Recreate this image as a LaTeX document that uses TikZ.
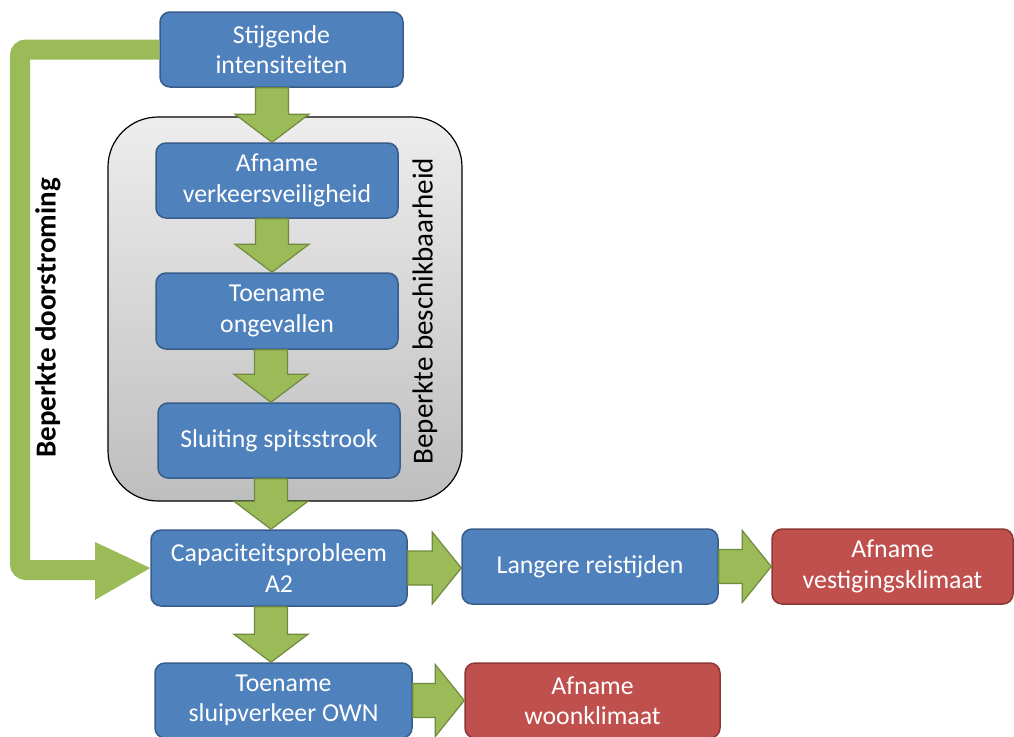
\documentclass[tikz,border=0pt]{standalone}
\usepackage{fontspec}
\setmainfont{Carlito}
\usetikzlibrary{calc}
\definecolor{blueF}{HTML}{4F81BD}
\definecolor{blueD}{HTML}{385D8A}
\definecolor{redF}{HTML}{C0504D}
\definecolor{redD}{HTML}{8C3836}
\definecolor{greenF}{HTML}{9BBB59}
\definecolor{greenD}{HTML}{71893F}
\definecolor{greyT}{HTML}{EDEDED}
\definecolor{greyB}{HTML}{BEBEBE}
\tikzset{
  box/.style={draw=blueD, fill=blueF, line width=1.5pt, rounded corners=10pt,
    text=white, align=center, inner sep=0pt,
    font=\fontsize{25.8}{30.5}\selectfont},
  bluebox/.style={box},
  redbox/.style={box, draw=redD, fill=redF},
  blockarrow/.style={draw=greenD, fill=greenF, line width=1.2pt, line join=miter},
  sidelabel/.style={rotate=90, font=\fontsize{29}{34}\selectfont},
}
\newcommand{\varr}[3]{% x, from node, to node
  \path[blockarrow] let \p1=(#2.south), \p2=(#3.north) in
    ({#1pt-16.5pt},{\y1}) -- ({#1pt-16.5pt},{\y2+28pt}) -- ({#1pt-37pt},{\y2+28pt})
    -- ({#1pt},{\y2}) -- ({#1pt+37pt},{\y2+28pt}) -- ({#1pt+16.5pt},{\y2+28pt})
    -- ({#1pt+16.5pt},{\y1}) -- cycle;}
\newcommand{\harr}[2]{% from node, to node
  \path[blockarrow] let \p1=(#1.east), \p2=(#2.west) in
    ({\x1},{\y1+17pt}) -- ({\x2-29pt},{\y1+17pt}) -- ({\x2-29pt},{\y1+36pt})
    -- ({\x2},{\y1}) -- ({\x2-29pt},{\y1-36pt}) -- ({\x2-29pt},{\y1-17pt})
    -- ({\x1},{\y1-17pt}) -- cycle;}
\begin{document}
\begin{tikzpicture}[x=1pt,y=-1pt]
\useasboundingbox (0,0) rectangle (1014,736);
% grey group
\path[draw=black, line width=1.2pt, rounded corners=50pt, top color=greyT, bottom color=greyB]
  (108,117) rectangle (462,501);
% nodes
\node[bluebox, minimum width=243pt, minimum height=75pt] (stij) at (281.5,49.5) {Stijgende\\intensiteiten};
\node[bluebox, minimum width=242pt, minimum height=75pt] (afv) at (277,180.5) {Afname\\verkeersveiligheid};
\node[bluebox, minimum width=242pt, minimum height=76pt] (toe) at (277,311) {Toename\\ongevallen};
\node[bluebox, minimum width=242pt, minimum height=75pt] (slu) at (279,440.5) {Sluiting spitsstrook};
\node[bluebox, minimum width=256pt, minimum height=76pt] (cap) at (279,568) {Capaciteitsprobleem\\A2};
\node[bluebox, minimum width=256pt, minimum height=75pt] (lan) at (590,566.5) {Langere reistijden};
\node[redbox, minimum width=241pt, minimum height=75pt] (vest) at (892.5,566.5) {Afname\\vestigingsklimaat};
\node[bluebox, minimum width=257pt, minimum height=75pt] (slui) at (283.5,700.5) {Toename\\sluipverkeer OWN};
\node[redbox, minimum width=255pt, minimum height=75pt] (woon) at (592.5,700.5) {Afname\\woonklimaat};
% labels
\node[sidelabel, font=\fontsize{29}{34}\selectfont\bfseries] (lbl1) at (48,318) {Beperkte doorstroming};
\node[sidelabel] (lbl2) at (425,311) {Beperkte beschikbaarheid};
% block arrows
\varr{272}{stij}{afv}
\varr{272}{afv}{toe}
\varr{271}{toe}{slu}
\varr{271}{slu}{cap}
\varr{271}{cap}{slui}
\harr{cap}{lan}
\harr{lan}{vest}
\harr{slui}{woon}
% L-shaped arrow
\coordinate (lc1) at (20,49.5);
\coordinate (lc2) at (20,570);
\coordinate (lc3) at (96,570);
\draw[greenF, line width=20pt, rounded corners=6pt] (stij.west) -- (lc1) -- (lc2) -- (lc3);
\fill[greenF] let \p1=(cap.west) in (95,542) -- (\p1) -- (95,600) -- cycle;
\end{tikzpicture}
\end{document}
